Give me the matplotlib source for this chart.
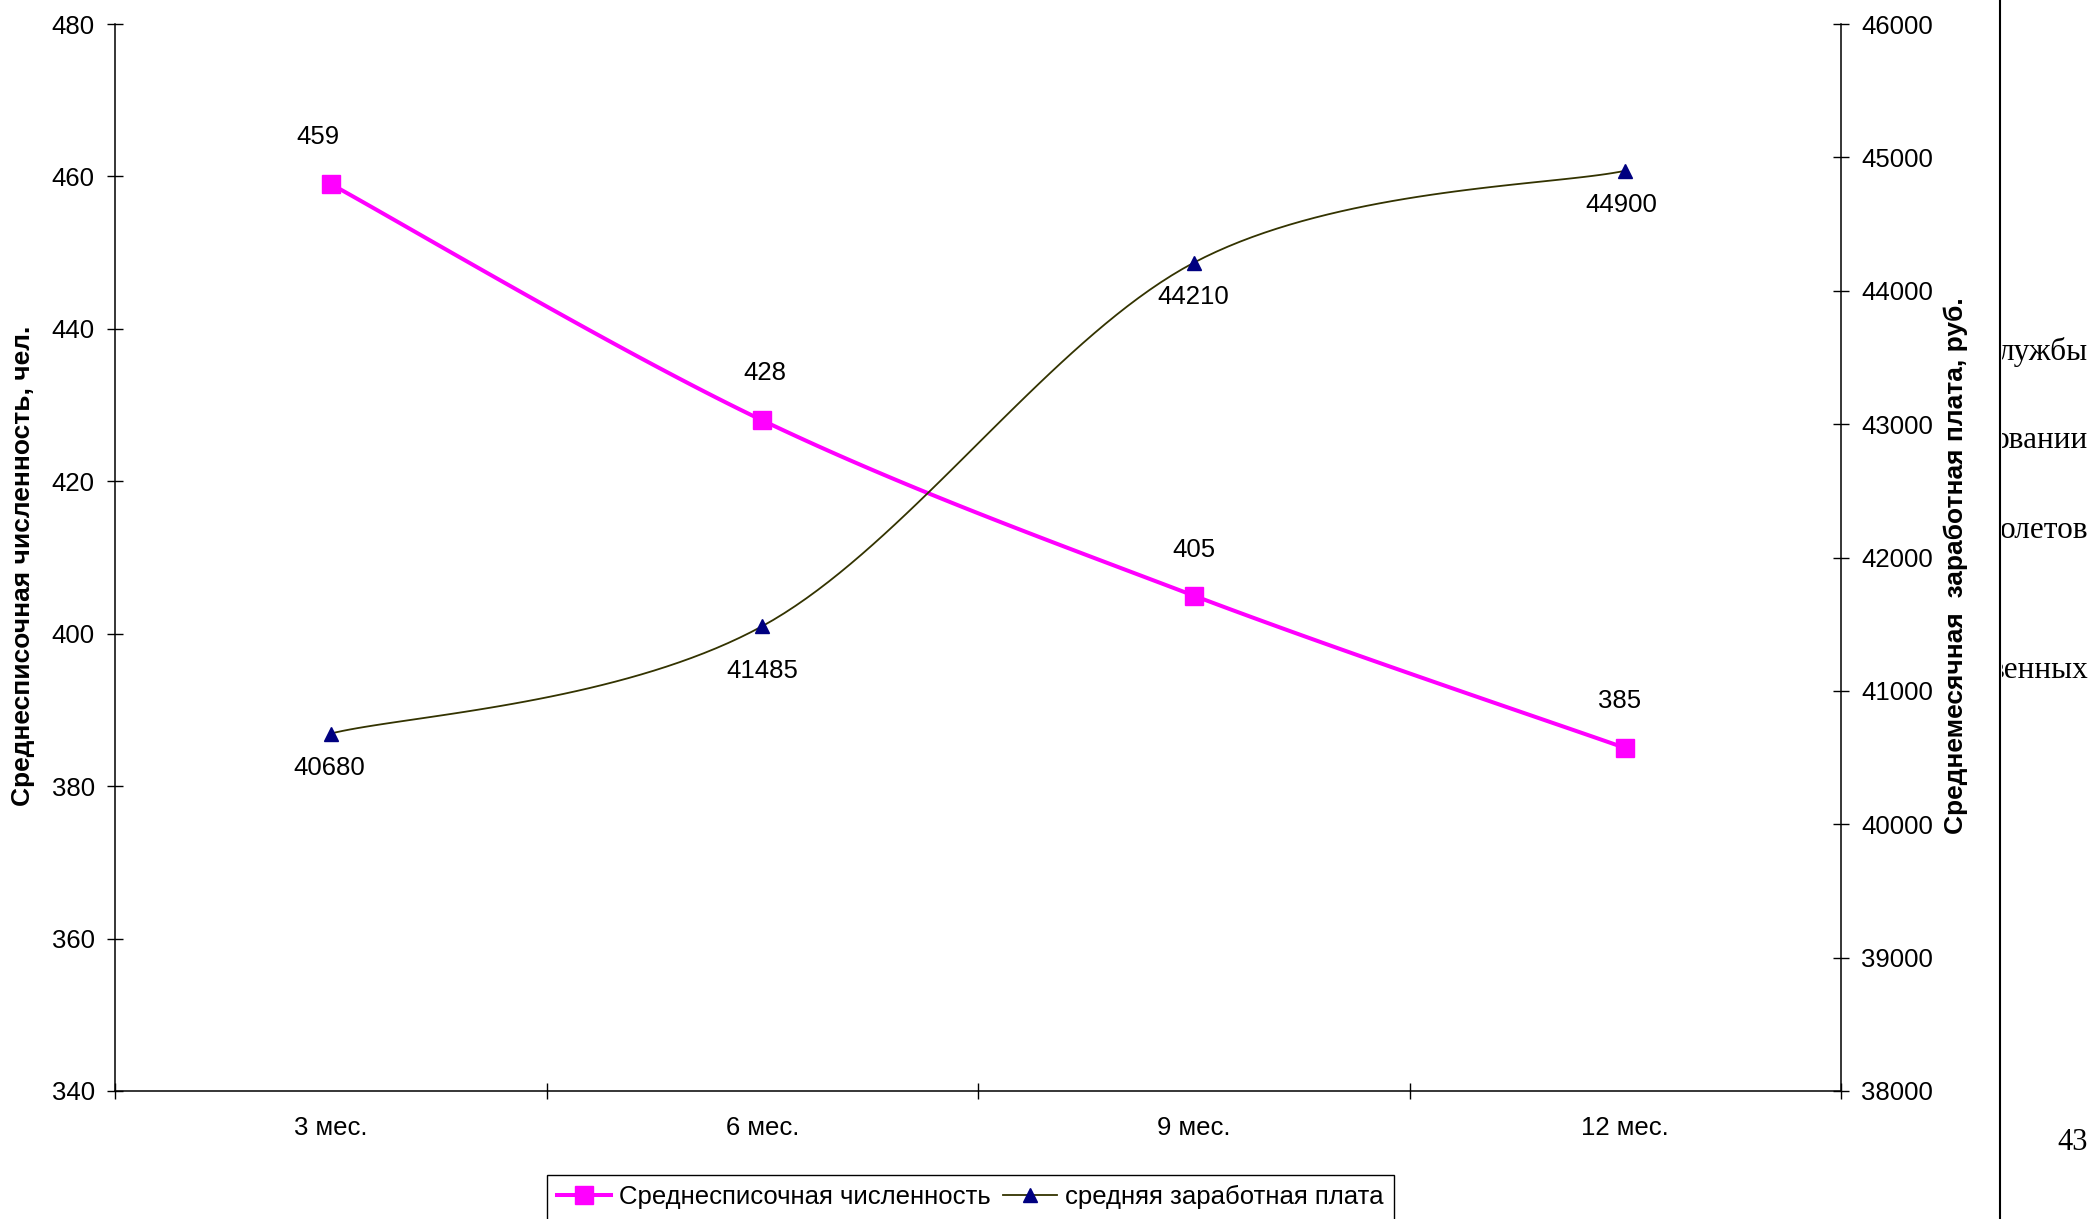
import numpy as np
import matplotlib
matplotlib.use("Agg")
import matplotlib.pyplot as plt
from matplotlib.lines import Line2D
from matplotlib.transforms import Bbox, TransformedBbox

# ---- data ----
categories = ["3 мес.", "6 мес.", "9 мес.", "12 мес."]
headcount = [459, 428, 405, 385]
wage = [40680, 41485, 44210, 44900]
headcount_name = "Среднесписочная численность"
wage_name = "средняя заработная плата"
left_label = "Среднесписочная численность, чел."
right_label = "Среднемесячная  заработная плата, руб."
left_ticks = [340, 360, 380, 400, 420, 440, 460, 480]
right_ticks = [38000, 39000, 40000, 41000, 42000, 43000, 44000, 45000, 46000]
side_text = ["лужбы", "овании", "олетов", "венных"]
page_number = "43"

plt.rcParams['font.family'] = ['Liberation Sans', 'DejaVu Sans']
W, H = 2096, 1219
fig = plt.figure(figsize=(W / 100, H / 100), dpi=100)
fig.patch.set_facecolor("white")

L, R, T, B = 115, 1841, 24, 1091
ax = fig.add_axes([L / W, 1 - B / H, (R - L) / W, (B - T) / H])
ax2 = ax.twinx()

FS = 18.5


def smooth(xs, ys, n=40):
    """Excel-like smoothed line (Catmull-Rom Bezier) through given points."""
    xs = np.asarray(xs, float)
    ys = np.asarray(ys, float)
    P = np.column_stack([xs, ys])
    out = []
    m = len(P)
    for i in range(m - 1):
        p0 = P[i - 1] if i > 0 else P[i]
        p1 = P[i]
        p2 = P[i + 1]
        p3 = P[i + 2] if i + 2 < m else P[i + 1]
        c1 = p1 + (p2 - p0) / 6.0
        c2 = p2 - (p3 - p1) / 6.0
        t = np.linspace(0, 1, n)[:, None]
        seg = ((1 - t) ** 3) * p1 + 3 * ((1 - t) ** 2) * t * c1 + 3 * (1 - t) * t ** 2 * c2 + t ** 3 * p2
        out.append(seg if i == 0 else seg[1:])
    S = np.vstack(out)
    return S[:, 0], S[:, 1]


x = np.arange(len(categories))

# headcount series (left axis)
sx, sy = smooth(x, headcount)
ax.plot(sx, sy, color="#FF00FF", lw=2.9, solid_joinstyle="round", zorder=3)
ax.plot(x, headcount, ls="none", marker="s", ms=13, color="#FF00FF", zorder=4)

# wage series (right axis)
wx, wy = smooth(x, wage)
ax2.plot(wx, wy, color="#333300", lw=1.3, zorder=3)
ax2.plot(x, wage, ls="none", marker="^", ms=10.5, color="#000080", zorder=4)

# data labels (offsets in points)
head_off = [(-9, 34), (2, 34), (0, 33), (-4, 34)]
wage_off = [(-1, -25), (0, -32), (0, -25), (-3, -25)]
for xi, v, off in zip(x, headcount, head_off):
    ax.annotate(str(v), (xi, v), xytext=off, textcoords="offset points",
                ha="center", va="center", fontsize=FS, color="black")
for xi, v, off in zip(x, wage, wage_off):
    ax2.annotate(str(v), (xi, v), xytext=off, textcoords="offset points",
                 ha="center", va="center", fontsize=FS, color="black")

# axes ranges
ax.set_xlim(-0.5, len(categories) - 0.5)
ax.set_ylim(340, 480)
ax2.set_ylim(38000, 46000)
ax.set_yticks(left_ticks)
ax2.set_yticks(right_ticks)

# x ticks: marks on boundaries, labels at centers
ax.set_xticks(np.arange(len(categories) + 1) - 0.5)
ax.set_xticklabels([])
ax.set_xticks(x, minor=True)
ax.set_xticklabels(categories, minor=True)
ax.tick_params(axis="x", which="major", direction="inout", length=11, width=1, color="black")
ax.tick_params(axis="x", which="minor", length=0, pad=18, labelsize=FS)
ax.tick_params(axis="y", direction="inout", length=11, width=1, pad=9, labelsize=FS)
ax2.tick_params(axis="y", direction="inout", length=11, width=1, pad=9, labelsize=FS)

for a in (ax, ax2):
    a.spines["top"].set_visible(False)
    for s in ("left", "right", "bottom"):
        a.spines[s].set_linewidth(1.1)
        a.spines[s].set_color("black")
ax.spines["right"].set_visible(False)
ax2.spines["left"].set_visible(False)
ax2.spines["bottom"].set_visible(False)
ax.patch.set_visible(False)

lab_font = dict(fontsize=19, fontweight="bold",
                family=['Liberation Sans Narrow', 'Liberation Sans', 'DejaVu Sans'])
ax.set_ylabel(left_label, **lab_font)
ax.yaxis.set_label_coords((35 - L) / (R - L), (B - 566) / (B - T))
ax2.set_ylabel(right_label, rotation=90, **lab_font)
ax2.yaxis.set_label_coords((1944 - L) / (R - L), (B - 566) / (B - T))

# legend
handles = [
    Line2D([], [], color="#FF00FF", lw=2.9, marker="s", ms=13),
    Line2D([], [], color="#333300", lw=1.3, marker="^", ms=10.5,
           markerfacecolor="#000080", markeredgecolor="#000080"),
]
leg = fig.legend(handles, [headcount_name, wage_name], loc="upper left",
                 bbox_to_anchor=(547 / W, 1 - 1175 / H), ncol=2, fontsize=FS,
                 frameon=True, fancybox=False, shadow=False, framealpha=1,
                 edgecolor="black", handlelength=2.1, handletextpad=0.3,
                 columnspacing=0.5, borderpad=0.4, borderaxespad=0)
leg.get_frame().set_linewidth(1.0)

# page fragment at right
fig.add_artist(Line2D([2000 / W, 2000 / W], [0, 1], transform=fig.transFigure,
                      color="black", lw=1.5))
clip = TransformedBbox(Bbox([[2002 / W, 0], [1, 1]]), fig.transFigure)
ys_txt = [352, 441, 531, 671]
for t, yy in zip(side_text, ys_txt):
    tx = fig.text(2088 / W, 1 - yy / H, t, ha="right", va="center", fontsize=22.5,
                  family=['Liberation Serif', 'DejaVu Serif'])
    tx.set_clip_box(clip)
fig.text(2088 / W, 1 - 1143 / H, page_number, ha="right", va="center", fontsize=22,
         family=['Liberation Serif', 'DejaVu Serif'])

fig.savefig("out.png", dpi=100, facecolor="white")
